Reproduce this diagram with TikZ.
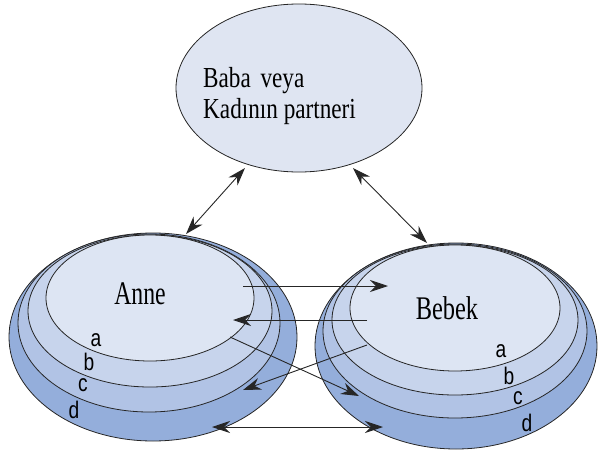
\documentclass[tikz,border=0pt]{standalone}
\usepackage{fontspec}
\setmainfont{Liberation Serif}
\newfontfamily\plainsans{Liberation Sans}
\usetikzlibrary{shapes.geometric,arrows.meta}
\definecolor{layA}{HTML}{DDE5F3}
\definecolor{layB}{HTML}{C7D4EC}
\definecolor{layC}{HTML}{B1C3E5}
\definecolor{layD}{HTML}{94AEDB}
\definecolor{topfill}{HTML}{DFE5F2}
\newcommand{\narrowtxt}[2]{\scalebox{#1}[1]{#2}}
\begin{document}
\begin{tikzpicture}[x=1pt,y=-1pt,
  layer/.style={ellipse,draw=black!85,line width=0.8pt,inner sep=0pt},
  conn/.style={draw=black!85,line width=0.9pt},
  tip/.style={-{Stealth[length=18pt,width=12pt]}},
  dtip/.style={{Stealth[length=18pt,width=12pt]}-{Stealth[length=18pt,width=12pt]}},
  bigtxt/.style={font=\rmfamily\fontsize{33}{36}\selectfont,inner sep=0pt},
  toptxt/.style={font=\rmfamily\fontsize{29}{31}\selectfont,inner sep=0pt,align=left},
  lbl/.style={font=\plainsans\fontsize{24}{26}\selectfont,inner sep=0pt}
]
\useasboundingbox (0,0) rectangle (598,455);
% top ellipse
\node[layer,fill=topfill,minimum width=246pt,minimum height=168pt] (top) at (299,88) {};
\node[toptxt,anchor=west] (toptext) at (203,96) {\narrowtxt{0.8}{Baba\, veya}\\\narrowtxt{0.8}{Kad\i n\i n partneri}};
% left stack
\node[layer,fill=layD,minimum width=288pt,minimum height=208pt] (Ld) at (153,337) {};
\node[layer,fill=layC,minimum width=262pt,minimum height=178pt] (Lc) at (149,323) {};
\node[layer,fill=layB,minimum width=244pt,minimum height=152pt] (Lb) at (150,311) {};
\node[layer,fill=layA,minimum width=208pt,minimum height=126pt] (La) at (150,298) {};
\node[bigtxt] (anne) at (140,294) {\narrowtxt{0.72}{Anne}};
% right stack
\node[layer,fill=layD,minimum width=282pt,minimum height=206pt] (Rd) at (456,346) {};
\node[layer,fill=layC,minimum width=264pt,minimum height=174pt] (Rc) at (455,331) {};
\node[layer,fill=layB,minimum width=246pt,minimum height=150pt] (Rb) at (455,320) {};
\node[layer,fill=layA,minimum width=210pt,minimum height=126pt] (Ra) at (455,308) {};
\node[bigtxt] (bebek) at (447,308) {\narrowtxt{0.74}{Bebek}};
% labels
\node[lbl] (la) at (96,340) {\narrowtxt{0.8}{a}};
\node[lbl] (lb) at (89,362) {\narrowtxt{0.8}{b}};
\node[lbl] (lc) at (83,385) {\narrowtxt{0.8}{c}};
\node[lbl] (ld) at (74,410) {\narrowtxt{0.8}{d}};
\node[lbl] (ra) at (501,351) {\narrowtxt{0.8}{a}};
\node[lbl] (rb) at (509,376) {\narrowtxt{0.8}{b}};
\node[lbl] (rc) at (518,398) {\narrowtxt{0.8}{c}};
\node[lbl] (rd) at (527,423) {\narrowtxt{0.8}{d}};
% connector coordinates
\coordinate (t1) at (245,168);
\coordinate (a1) at (186,234);
\coordinate (t2) at (353,168);
\coordinate (b1) at (427,243);
\coordinate (h1s) at (243,286);
\coordinate (h1e) at (388,286);
\coordinate (h2s) at (367,320);
\coordinate (h2e) at (233,320);
\coordinate (x1s) at (230,337);
\coordinate (x1e) at (359,396);
\coordinate (x2s) at (367,345);
\coordinate (x2e) at (243,390);
\coordinate (bs) at (212,427);
\coordinate (be) at (383,427);
\draw[conn,dtip] (t1) -- (a1);
\draw[conn,dtip] (t2) -- (b1);
\draw[conn,tip] (h1s) -- (h1e);
\draw[conn,tip] (h2s) -- (h2e);
\draw[conn,tip] (x1s) -- (x1e);
\draw[conn,tip] (x2s) -- (x2e);
\draw[conn,dtip] (bs) -- (be);
\end{tikzpicture}
\end{document}
